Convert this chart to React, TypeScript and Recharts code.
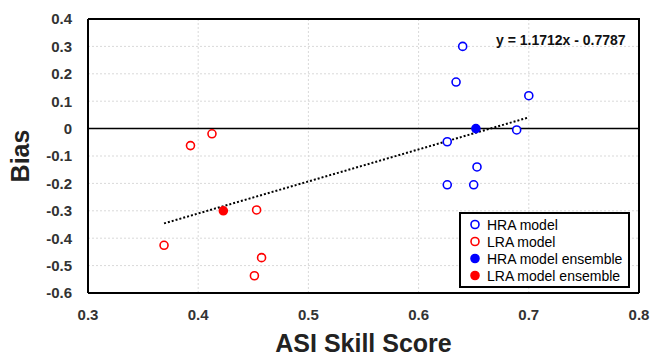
import React from "react";
import {
  CartesianGrid,
  Label,
  ReferenceLine,
  Scatter,
  ScatterChart,
  XAxis,
  YAxis,
} from "recharts";

// ASI skill score vs bias, per model
const hraModel = [
  { x: 0.64, y: 0.3 },
  { x: 0.634, y: 0.17 },
  { x: 0.7, y: 0.12 },
  { x: 0.689, y: -0.005 },
  { x: 0.626, y: -0.048 },
  { x: 0.653, y: -0.14 },
  { x: 0.626, y: -0.205 },
  { x: 0.65, y: -0.205 },
];
const lraModel = [
  { x: 0.4125, y: -0.019 },
  { x: 0.393, y: -0.062 },
  { x: 0.453, y: -0.297 },
  { x: 0.369, y: -0.426 },
  { x: 0.4575, y: -0.471 },
  { x: 0.451, y: -0.537 },
];
const hraEnsemble = [{ x: 0.652, y: 0.0 }];
const lraEnsemble = [{ x: 0.4228, y: -0.3 }];
// linear trend end points
const trendLine = [
  { x: 0.369, y: -0.346 },
  { x: 0.7, y: 0.041 },
];

const xTicks = [0.3, 0.4, 0.5, 0.6, 0.7, 0.8];
const yTicks = [0.4, 0.3, 0.2, 0.1, 0, -0.1, -0.2, -0.3, -0.4, -0.5, -0.6];
const equation = "y = 1.1712x - 0.7787";

const legendItems = [
  { name: "HRA model", color: "#0000ff", filled: false },
  { name: "LRA model", color: "#ff0000", filled: false },
  { name: "HRA model ensemble", color: "#0000ff", filled: true },
  { name: "LRA model ensemble", color: "#ff0000", filled: true },
];

const FONT = "'Liberation Sans', Arial, sans-serif";
const frame = { stroke: "#000", strokeWidth: 2 };

const marker = (color: string, filled: boolean) => (props: any) => {
  const { cx, cy } = props;
  if (cx == null || cy == null) return <g />;
  return (
    <circle
      cx={cx}
      cy={cy}
      r={4}
      fill={filled ? color : "#fff"}
      stroke={color}
      strokeWidth={1.6}
    />
  );
};

const fmtY = (v: number) => (v === 0 ? "0" : v.toFixed(1));

function LegendBox() {
  return (
    <div
      style={{
        position: "absolute",
        left: 459,
        top: 212,
        width: 167,
        height: 70,
        border: "2px solid #000",
        background: "#fff",
        fontFamily: FONT,
        fontSize: 14,
        color: "#000",
        paddingTop: 2,
      }}
    >
      {legendItems.map((it) => (
        <div
          key={it.name}
          style={{ height: 17, display: "flex", alignItems: "center", whiteSpace: "nowrap" }}
        >
          <svg width={26} height={17}>
            <circle
              cx={14}
              cy={8.5}
              r={4}
              fill={it.filled ? it.color : "#fff"}
              stroke={it.color}
              strokeWidth={1.6}
            />
          </svg>
          <span>{it.name}</span>
        </div>
      ))}
    </div>
  );
}

export default function App() {
  return (
    <div style={{ position: "absolute", left: 0, top: 0, width: 654, height: 356, background: "#fff" }}>
      <ScatterChart
        width={654}
        height={356}
        margin={{ top: 19, right: 15, left: 0, bottom: 0 }}
      >
        <CartesianGrid stroke="#d9d9d9" strokeDasharray="2 2" />
        <XAxis
          type="number"
          dataKey="x"
          domain={[0.3, 0.8]}
          ticks={xTicks}
          interval={0}
          tickFormatter={(v: number) => v.toFixed(1)}
          height={63}
          tickSize={0}
          tickMargin={16}
          axisLine={frame}
          tick={{ fill: "#333", fontSize: 15, fontWeight: 700, fontFamily: FONT }}
          allowDataOverflow
        >
          <Label
            value="ASI Skill Score"
            position="insideBottom"
            offset={4}
            style={{ fill: "#222", fontSize: 25, fontWeight: 700, fontFamily: FONT }}
          />
        </XAxis>
        <YAxis
          type="number"
          dataKey="y"
          domain={[-0.6, 0.4]}
          ticks={yTicks}
          interval={0}
          tickFormatter={fmtY}
          width={88}
          tickSize={0}
          tickMargin={16}
          axisLine={frame}
          tick={{ fill: "#333", fontSize: 15, fontWeight: 700, fontFamily: FONT }}
          allowDataOverflow
        >
          <Label
            value="Bias"
            angle={-90}
            position="insideLeft"
            offset={20}
            style={{ fill: "#222", fontSize: 25, fontWeight: 700, fontFamily: FONT, textAnchor: "middle" }}
          />
        </YAxis>
        {/* top and right edges of the plot frame */}
        <ReferenceLine
          segment={[{ x: 0.3, y: 0.4 }, { x: 0.8, y: 0.4 }]}
          stroke="#000"
          strokeWidth={2}
          ifOverflow="visible"
        />
        <ReferenceLine
          segment={[{ x: 0.8, y: 0.4 }, { x: 0.8, y: -0.6 }]}
          stroke="#000"
          strokeWidth={2}
          ifOverflow="visible"
        />
        <ReferenceLine y={0} stroke="#000" strokeWidth={1.5} />
        <Scatter
          data={trendLine}
          line={{ stroke: "#000", strokeWidth: 2, strokeDasharray: "2 2" }}
          shape={() => <g />}
          isAnimationActive={false}
          legendType="none"
        />
        <Scatter data={hraModel} shape={marker("#0000ff", false)} isAnimationActive={false} />
        <Scatter data={lraModel} shape={marker("#ff0000", false)} isAnimationActive={false} />
        <Scatter data={hraEnsemble} shape={marker("#0000ff", true)} isAnimationActive={false} />
        <Scatter data={lraEnsemble} shape={marker("#ff0000", true)} isAnimationActive={false} />
      </ScatterChart>
      <svg
        width={654}
        height={356}
        style={{ position: "absolute", left: 0, top: 0, pointerEvents: "none" }}
      >
        <polyline points="88,19 639,19 639,293" fill="none" stroke="#000" strokeWidth={2} />
      </svg>
      <LegendBox />
      <div
        style={{
          position: "absolute",
          left: 496,
          top: 32,
          fontFamily: FONT,
          fontSize: 14,
          fontWeight: 700,
          color: "#111",
          whiteSpace: "nowrap",
        }}
      >
        {equation}
      </div>
    </div>
  );
}
